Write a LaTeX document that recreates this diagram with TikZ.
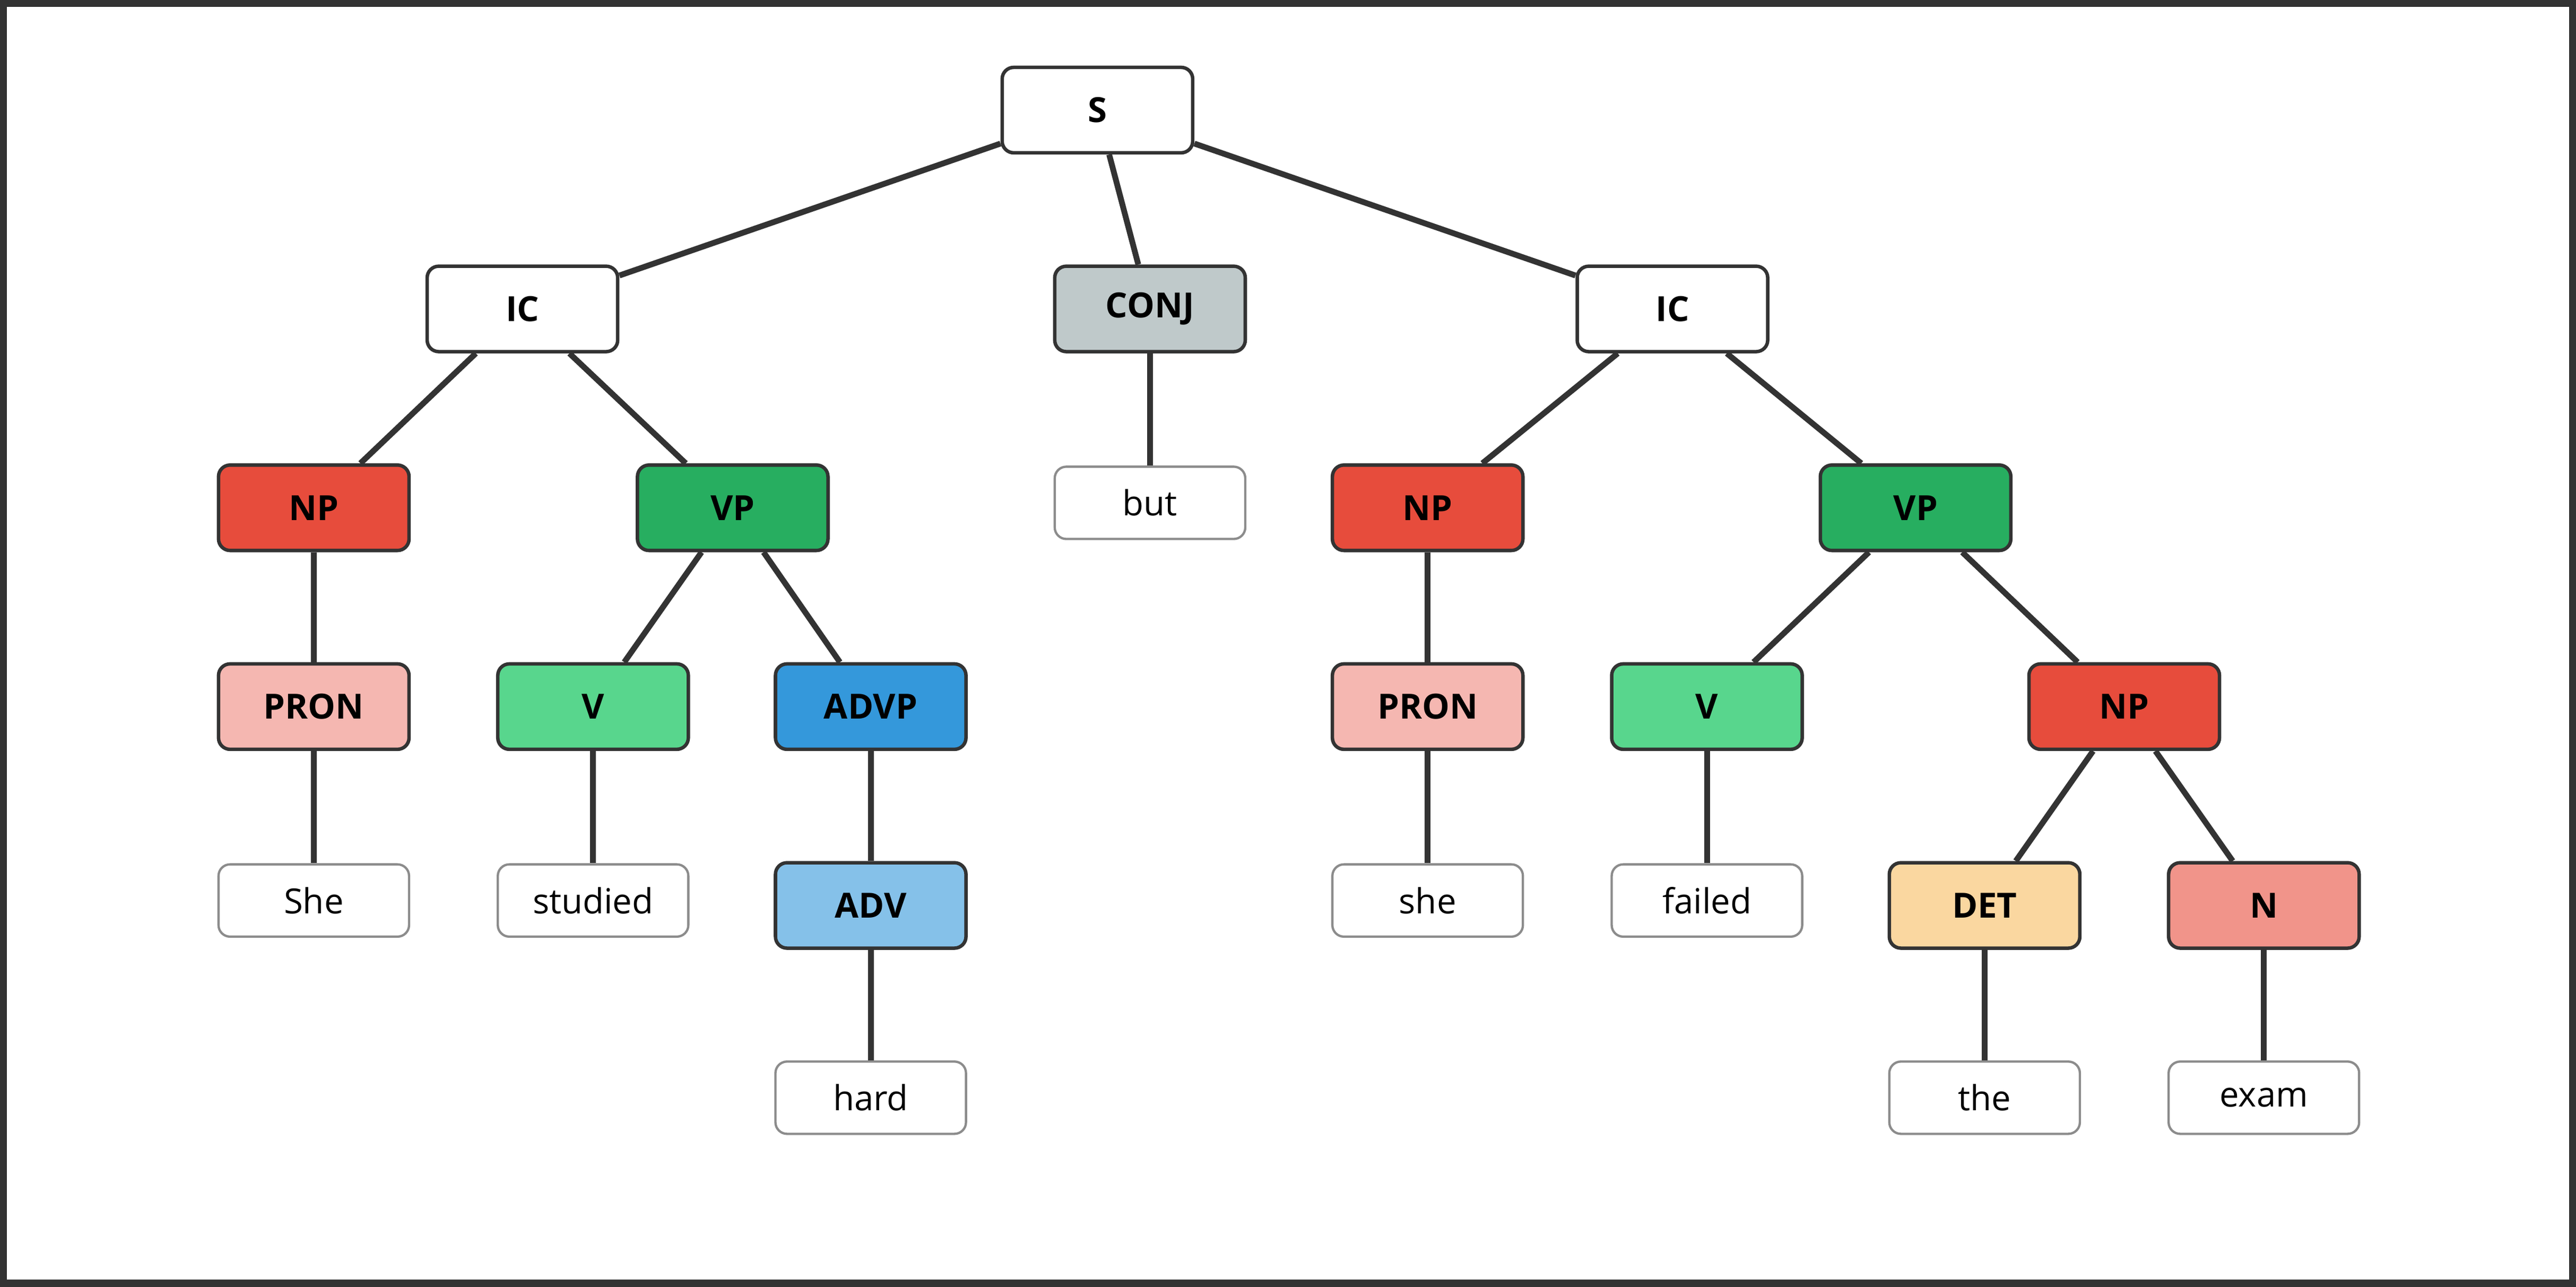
\documentclass[tikz,border=0pt]{standalone}
\usepackage{fontspec}
\setmainfont{Open Sans}
\begin{document}
\begin{tikzpicture}[x=0.02cm,y=-0.02cm,
 n/.style={draw=black!80,line width=1.2pt,rounded corners=4pt,minimum width=2.32cm,minimum height=1.04cm,font=\bfseries\large,text=black},
 lf/.style={draw=black!45,line width=0.8pt,rounded corners=4pt,fill=white,minimum width=2.32cm,minimum height=0.88cm,font=\large},
 e/.style={line width=2pt,draw=black!80}]
\useasboundingbox (0,0) rectangle (1568,783);
\draw[line width=2.5pt,black!80] (2,2) rectangle (1566,781);
\definecolor{np}{HTML}{E74C3C}\definecolor{vp}{HTML}{27AE60}
\definecolor{pron}{HTML}{F5B7B1}\definecolor{vv}{HTML}{58D68D}
\definecolor{advp}{HTML}{3498DB}\definecolor{adv}{HTML}{85C1E9}
\definecolor{conj}{HTML}{BFC9CA}\definecolor{det}{HTML}{FAD7A0}
\definecolor{nn}{HTML}{F1948A}
\node[n,fill=white] (S) at (668,67) {S};
\node[n,fill=white] (IC1) at (318,188) {IC};
\node[n,fill=conj] (CONJ) at (700,188) {CONJ};
\node[n,fill=white] (IC2) at (1018,188) {IC};
\node[n,fill=np] (NP1) at (191,309) {NP};
\node[n,fill=vp] (VP1) at (446,309) {VP};
\node[lf] (but) at (700,306) {but};
\node[n,fill=np] (NP2) at (869,309) {NP};
\node[n,fill=vp] (VP2) at (1166,309) {VP};
\node[n,fill=pron] (PRON1) at (191,430) {PRON};
\node[n,fill=vv] (V1) at (361,430) {V};
\node[n,fill=advp] (ADVP) at (530,430) {ADVP};
\node[n,fill=pron] (PRON2) at (869,430) {PRON};
\node[n,fill=vv] (V2) at (1039,430) {V};
\node[n,fill=np] (NP3) at (1293,430) {NP};
\node[lf] (She) at (191,548) {She};
\node[lf] (studied) at (361,548) {studied};
\node[n,fill=adv] (ADV) at (530,551) {ADV};
\node[lf] (she) at (869,548) {she};
\node[lf] (failed) at (1039,548) {failed};
\node[n,fill=det] (DET) at (1208,551) {DET};
\node[n,fill=nn] (N) at (1378,551) {N};
\node[lf] (hard) at (530,668) {hard};
\node[lf] (the) at (1208,668) {the};
\node[lf] (exam) at (1378,668) {exam};
\begin{scope}[on background layer/.style={}]
\foreach \a/\b in {S/IC1,S/CONJ,S/IC2,IC1/NP1,IC1/VP1,CONJ/but,IC2/NP2,IC2/VP2,NP1/PRON1,VP1/V1,VP1/ADVP,NP2/PRON2,VP2/V2,VP2/NP3,PRON1/She,V1/studied,ADVP/ADV,PRON2/she,V2/failed,NP3/DET,NP3/N,ADV/hard,DET/the,N/exam}
 \draw[e] (\a) -- (\b);
\end{scope}
\end{tikzpicture}
\end{document}
